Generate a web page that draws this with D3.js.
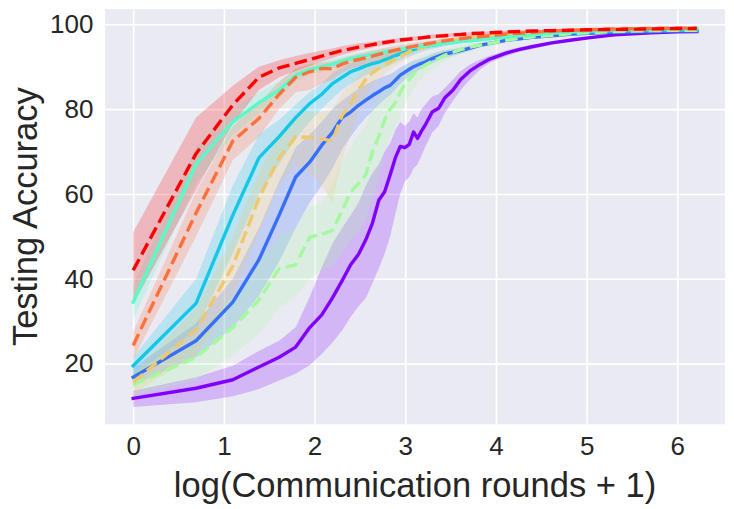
<!DOCTYPE html>
<meta charset="utf-8">
<style>
 body { margin: 0; background: white; }
 svg { display: block; font-family: 'Liberation Sans', Arial, sans-serif; }
 .grid line { stroke: white; stroke-width: 1.6; }
 .grid text { fill: #262626; }
 .label { fill: #262626; font-size: 34.5px; }
</style>

<svg width="734" height="509"></svg>

<script src="https://d3js.org/d3.v7.min.js"></script>
<script>
 // communication rounds sampled from the curves (x = log(rounds + 1))
 var rounds = [0,1,2,3,4,5,6,7,8,9,10,11,12,13,14,15,16,17,18,19,20,21,22,23,24,26,28,30,33,36,40,45,50,60,70,80,100,125,150,200,300,400,499];

 var accPurple = [11.8,14.2,16.2,19.2,21.5,23.9,28.5,31.5,35.5,39.5,43.3,45.8,49.2,53.2,58.5,60.5,64.5,68.5,71.2,70.9,71.7,74.6,73.1,74.8,76.2,79.3,80.2,82.6,84.5,87.0,89.0,90.6,91.8,93.2,94.1,94.7,95.6,96.3,96.8,97.5,98.0,98.2,98.3];
 var loPurple  = [9.8,10.9,12.3,14.0,16.0,17.6,19.6,22.3,25.0,27.8,31.0,33.5,35.5,39.0,42.5,45.9,50.0,55.3,60.0,63.0,64.0,66.0,67.0,69.0,71.0,74.5,76.0,79.0,82.0,84.5,87.0,89.4,90.9,92.5,93.6,94.2,95.2,96.0,96.5,97.2,97.8,98.1,98.2];
 var hiPurple  = [13.6,16.8,19.5,23.0,25.4,28.6,35.7,42.7,48.3,52.0,55.0,58.0,62.0,65.0,67.0,70.0,72.0,75.0,77.0,76.0,77.0,79.0,78.0,80.0,81.0,83.0,83.5,85.0,87.0,89.0,90.5,91.7,92.6,93.8,94.6,95.1,95.9,96.5,97.0,97.7,98.1,98.3,98.4];

 var accBlue = [16.8,25.4,34.5,44.5,55.0,64.0,67.5,71.5,74.5,78.0,79.3,80.9,82.1,83.2,84.1,85.0,85.6,86.8,88.0,88.7,89.4,90.0,90.4,90.8,91.1,91.9,92.5,93.0,93.4,93.8,94.4,95.1,95.5,96.2,96.6,96.9,97.3,97.7,97.9,98.1,98.3,98.4,98.4];
 var loBlue  = [15.0,21.5,28.5,36.0,44.0,52.0,58.0,62.0,66.0,70.5,73.5,76.0,78.0,79.5,81.0,82.3,83.3,84.6,86.0,86.9,87.8,88.5,89.0,89.5,89.9,90.8,91.5,92.1,92.6,93.1,93.8,94.6,95.0,95.8,96.3,96.6,97.0,97.5,97.7,98.0,98.2,98.3,98.3];
 var hiBlue  = [19.0,29.5,40.0,52.0,63.0,71.0,74.0,77.0,80.0,82.0,83.5,84.8,85.8,86.6,87.2,87.8,88.2,89.0,89.8,90.4,90.9,91.4,91.7,92.0,92.3,93.0,93.5,93.9,94.2,94.5,95.0,95.6,95.9,96.6,96.9,97.2,97.6,97.9,98.1,98.3,98.4,98.5,98.5];

 var accCyan = [19.5,34.2,55.0,68.5,73.5,78.0,81.3,83.5,86.0,87.5,88.8,89.5,90.2,90.7,91.1,91.6,92.1,92.6,93.0,93.4,93.7,94.0,94.3,94.6,94.8,95.1,95.3,95.6,95.9,96.1,96.3,96.5,96.8,97.1,97.4,97.6,97.9,98.1,98.2,98.4,98.5,98.6,98.6];
 var loCyan  = [17.0,28.0,46.0,60.0,67.0,73.0,77.0,80.0,82.5,84.5,86.0,87.0,88.0,88.7,89.2,89.8,90.4,91.0,91.5,92.0,92.4,92.8,93.2,93.5,93.8,94.2,94.5,94.8,95.2,95.5,95.8,96.0,96.3,96.7,97.0,97.3,97.6,97.9,98.0,98.2,98.4,98.5,98.5];
 var hiCyan  = [21.5,40.0,62.0,74.0,77.5,81.0,84.0,86.0,88.5,89.8,90.8,91.4,91.9,92.3,92.7,93.1,93.5,93.9,94.2,94.6,94.8,95.1,95.3,95.5,95.7,95.9,96.1,96.3,96.5,96.7,96.8,97.0,97.2,97.5,97.7,97.9,98.1,98.3,98.4,98.5,98.6,98.7,98.7];

 var accGreen = [15.0,21.5,28.5,35.0,42.4,43.3,49.8,50.5,51.4,56.0,60.4,62.5,64.5,70.0,73.5,77.5,80.0,81.5,84.0,85.8,87.0,88.3,89.0,89.8,90.4,91.3,92.0,92.7,93.4,94.0,94.6,95.1,95.5,96.2,96.7,97.0,97.4,97.8,98.0,98.3,98.5,98.6,98.6];
 var loGreen  = [12.5,16.0,22.0,27.0,33.0,36.0,40.0,42.0,43.0,46.0,49.0,51.0,54.0,59.0,64.0,70.0,73.0,75.5,78.5,81.0,83.0,85.0,86.0,87.0,88.0,89.2,90.2,91.2,92.2,93.0,93.8,94.4,94.9,95.7,96.3,96.6,97.1,97.5,97.8,98.1,98.4,98.5,98.5];
 var hiGreen  = [18.0,27.0,36.0,44.0,50.0,52.0,57.0,58.0,62.0,68.0,71.0,74.0,76.0,80.0,82.5,84.5,86.5,87.5,89.0,90.0,90.8,91.5,92.0,92.4,92.8,93.4,93.8,94.2,94.6,95.0,95.4,95.8,96.1,96.7,97.1,97.4,97.7,98.0,98.2,98.5,98.6,98.7,98.7];

 var accYellow = [15.6,28.0,43.0,59.0,68.5,73.5,73.3,73.0,72.5,78.5,81.2,84.6,87.0,88.6,89.6,90.4,91.1,91.9,92.5,93.0,93.5,93.9,94.2,94.5,94.8,95.2,95.6,95.9,96.2,96.5,96.8,97.1,97.3,97.6,97.8,98.0,98.2,98.4,98.5,98.6,98.7,98.8,98.8];
 var loYellow  = [13.0,22.0,36.0,51.0,62.0,67.0,65.0,62.0,58.0,68.0,74.0,79.0,83.0,85.5,87.0,88.2,89.2,90.2,91.0,91.6,92.2,92.7,93.1,93.5,93.9,94.4,94.9,95.2,95.6,96.0,96.3,96.7,96.9,97.3,97.6,97.8,98.0,98.2,98.4,98.5,98.6,98.7,98.7];
 var hiYellow  = [17.5,33.0,50.0,65.0,74.0,78.5,79.5,79.5,80.0,84.0,86.0,88.0,90.0,91.0,91.8,92.5,93.0,93.5,94.0,94.4,94.7,95.0,95.3,95.5,95.7,96.0,96.3,96.6,96.8,97.0,97.3,97.5,97.7,97.9,98.0,98.2,98.4,98.6,98.6,98.7,98.8,98.9,98.9];

 var accAqua = [34.5,67.0,77.0,81.5,84.5,88.0,89.3,90.0,90.6,91.3,91.9,92.3,92.6,92.9,93.2,93.5,93.7,93.9,94.1,94.3,94.4,94.6,94.7,94.8,94.9,95.1,95.3,95.5,95.7,95.9,96.1,96.4,96.6,97.0,97.3,97.5,97.9,98.2,98.4,98.7,98.9,99.0,99.0];
 var loAqua  = [30.5,62.5,74.0,79.0,82.5,86.5,88.0,88.8,89.5,90.2,90.9,91.3,91.7,92.0,92.4,92.7,93.0,93.2,93.4,93.6,93.8,94.0,94.1,94.3,94.4,94.6,94.8,95.0,95.3,95.5,95.7,96.0,96.3,96.7,97.0,97.3,97.7,98.0,98.3,98.6,98.8,98.9,98.9];
 var hiAqua  = [38.5,71.0,80.0,84.0,86.5,89.5,90.5,91.2,91.7,92.3,92.8,93.2,93.5,93.8,94.0,94.2,94.4,94.6,94.8,94.9,95.0,95.2,95.3,95.4,95.5,95.7,95.8,96.0,96.2,96.3,96.5,96.8,97.0,97.3,97.6,97.7,98.1,98.4,98.5,98.8,99.0,99.1,99.1];

 var accOrange = [24.3,55.5,72.5,77.8,83.5,87.5,88.8,89.6,89.5,90.6,91.3,91.7,92.1,92.5,92.9,93.3,93.6,93.9,94.1,94.4,94.6,94.8,95.0,95.2,95.3,95.6,95.9,96.1,96.4,96.6,96.9,97.1,97.3,97.7,97.9,98.1,98.4,98.6,98.7,98.9,99.0,99.1,99.1];
 var loOrange  = [21.0,50.0,68.0,73.5,80.0,84.0,84.5,86.0,87.0,88.5,89.5,90.0,90.5,91.0,91.5,92.0,92.4,92.8,93.0,93.4,93.7,93.9,94.2,94.4,94.6,95.0,95.3,95.6,95.9,96.2,96.5,96.8,97.0,97.4,97.7,97.9,98.2,98.5,98.6,98.8,98.9,99.0,99.0];
 var hiOrange  = [27.5,60.5,76.0,81.5,86.5,89.5,90.5,91.0,91.2,92.0,92.6,93.0,93.4,93.8,94.1,94.4,94.7,94.9,95.1,95.3,95.5,95.6,95.8,95.9,96.0,96.2,96.4,96.6,96.8,97.0,97.2,97.4,97.6,97.9,98.1,98.3,98.6,98.7,98.8,99.0,99.1,99.2,99.2];

 var accRed = [42.0,69.5,81.0,87.5,89.7,90.8,91.7,92.5,93.2,93.8,94.2,94.6,94.9,95.2,95.5,95.7,95.9,96.1,96.3,96.4,96.5,96.6,96.7,96.8,96.9,97.1,97.2,97.3,97.5,97.6,97.8,97.9,98.0,98.2,98.3,98.4,98.5,98.6,98.7,98.8,98.9,99.0,99.0];
 var loRed  = [34.0,61.0,76.5,84.5,87.5,89.0,90.2,91.2,92.0,92.8,93.3,93.8,94.1,94.5,94.8,95.1,95.3,95.5,95.7,95.9,96.0,96.1,96.2,96.3,96.4,96.6,96.8,96.9,97.1,97.2,97.4,97.6,97.7,97.9,98.1,98.2,98.3,98.4,98.5,98.6,98.7,98.8,98.8];
 var hiRed  = [51.0,78.0,85.5,90.0,91.5,92.5,93.2,93.8,94.3,94.8,95.2,95.5,95.7,95.9,96.1,96.3,96.5,96.6,96.8,96.9,97.0,97.1,97.2,97.3,97.4,97.6,97.7,97.8,97.9,98.0,98.1,98.2,98.3,98.5,98.6,98.6,98.7,98.8,98.9,99.0,99.1,99.2,99.2];

 var xTicks = [0, 1, 2, 3, 4, 5, 6];
 var yTicks = [20, 40, 60, 80, 100];

 var series = [
     {color: '#8000ff', dashed: false, mean: accPurple, lo: loPurple, hi: hiPurple},
     {color: '#376ff9', dashed: false, mean: accBlue,   lo: loBlue,   hi: hiBlue},
     {color: '#12c8e6', dashed: false, mean: accCyan,   lo: loCyan,   hi: hiCyan},
     {color: '#a4f99f', dashed: true,  mean: accGreen,  lo: loGreen,  hi: hiGreen},
     {color: '#edc86f', dashed: true,  mean: accYellow, lo: loYellow, hi: hiYellow},
     {color: '#5bf9c8', dashed: false, mean: accAqua,   lo: loAqua,   hi: hiAqua},
     {color: '#ff6f39', dashed: true,  mean: accOrange, lo: loOrange, hi: hiOrange},
     {color: '#ff0000', dashed: true,  mean: accRed,    lo: loRed,    hi: hiRed}
 ];

 var plotLeft = 105, plotRight = 725, plotTop = 9, plotBottom = 424.3;
 var svg = d3.select('svg');

 var x = d3.scaleLinear().domain([-0.3107, 6.5253]).range([plotLeft, plotRight]);
 var y = d3.scaleLinear().domain([5.7, 103.6]).range([plotBottom, plotTop]);

 // background + grid
 svg.append('rect')
     .attr('x', plotLeft).attr('y', plotTop)
     .attr('width', plotRight - plotLeft).attr('height', plotBottom - plotTop)
     .attr('fill', '#eaeaf2');

 var tickFont = "'Liberation Sans', Arial, sans-serif";

 svg.append('g')
     .attr('class', 'grid')
     .attr('transform', 'translate(0,' + plotBottom + ')')
     .call(d3.axisBottom(x).tickValues(xTicks).tickFormat(d3.format('d'))
           .tickSize(-(plotBottom - plotTop)).tickPadding(12))
     .attr('font-family', tickFont)
     .attr('font-size', 26)
     .call(g => g.select('.domain').remove());

 svg.append('g')
     .attr('class', 'grid')
     .attr('transform', 'translate(' + plotLeft + ',0)')
     .call(d3.axisLeft(y).tickValues(yTicks).tickFormat(d3.format('d'))
           .tickSize(-(plotRight - plotLeft)).tickPadding(11.5))
     .attr('font-family', tickFont)
     .attr('font-size', 26)
     .call(g => g.select('.domain').remove());

 svg.append('clipPath').attr('id', 'plot')
     .append('rect')
     .attr('x', plotLeft).attr('y', plotTop)
     .attr('width', plotRight - plotLeft).attr('height', plotBottom - plotTop);

 var plot = svg.append('g').attr('clip-path', 'url(#plot)');

 // shaded bands first (below every line), then the lines
 series.forEach(function(s) {
     var area = d3.area()
                  .x(function(d, i) { return x(Math.log(rounds[i] + 1)); })
                  .y0(function(d, i) { return y(s.lo[i]); })
                  .y1(function(d, i) { return y(s.hi[i]); });
     plot.append('path')
         .attr('d', area(rounds))
         .attr('fill', s.color)
         .attr('fill-opacity', 0.22)
         .attr('stroke', 'none');
 });

 series.forEach(function(s) {
     var line = d3.line()
                  .x(function(d, i) { return x(Math.log(rounds[i] + 1)); })
                  .y(function(d) { return y(d); });
     plot.append('path')
         .attr('d', line(s.mean))
         .attr('fill', 'none')
         .attr('stroke', s.color)
         .attr('stroke-width', 3.4)
         .attr('stroke-linejoin', 'round')
         .attr('stroke-linecap', s.dashed ? 'butt' : 'square')
         .attr('stroke-dasharray', s.dashed ? '12.6,5.4' : null);
 });

 // axis titles
 svg.append('text')
     .attr('class', 'label')
     .attr('x', (plotLeft + plotRight) / 2)
     .attr('y', 497)
     .attr('text-anchor', 'middle')
     .text('log(Communication rounds + 1)');

 svg.append('text')
     .attr('class', 'label')
     .attr('transform', 'translate(36.5,' + (plotTop + plotBottom) / 2 + ') rotate(-90)')
     .attr('text-anchor', 'middle')
     .text('Testing Accuracy');
</script>
